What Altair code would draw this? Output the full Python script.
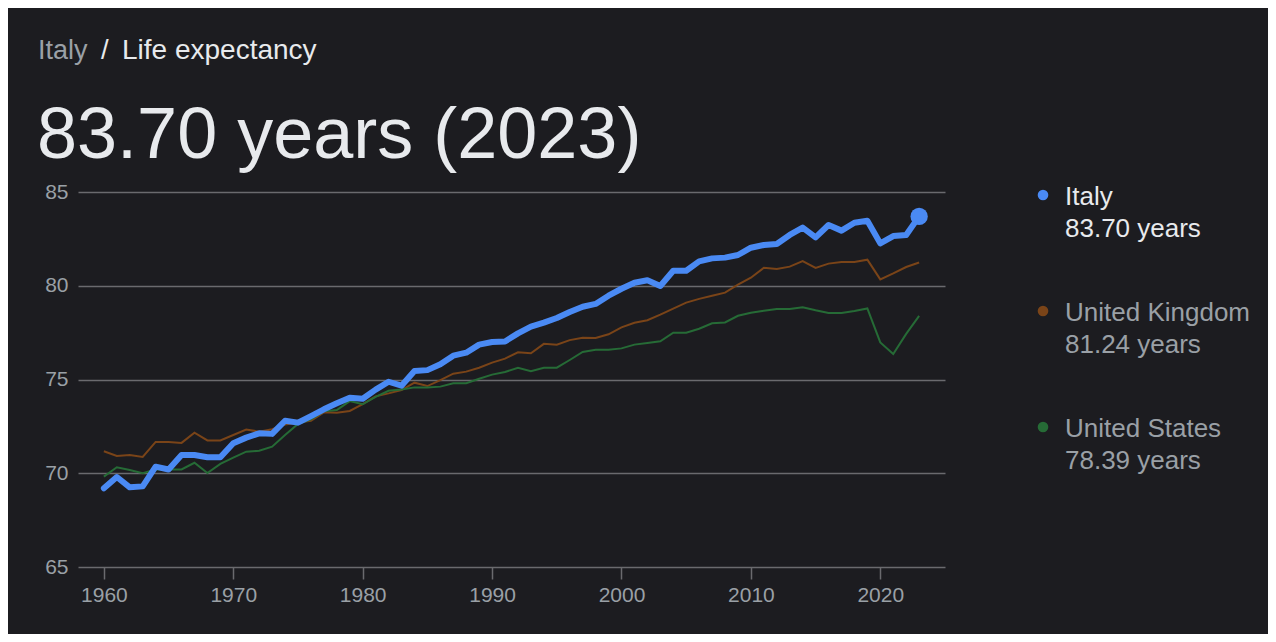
import altair as alt
import pandas as pd

years = list(range(1960, 2024))
italy = [69.2, 69.8, 69.25, 69.3, 70.35, 70.2, 70.97, 70.97, 70.85, 70.85,
         71.6, 71.9, 72.13, 72.1, 72.8, 72.7, 73.05, 73.41, 73.73, 74.03,
         73.97, 74.46, 74.88, 74.67, 75.45, 75.5, 75.81, 76.27, 76.43, 76.86,
         77.0, 77.03, 77.46, 77.82, 78.03, 78.28, 78.6, 78.88, 79.03, 79.47,
         79.84, 80.16, 80.29, 79.99, 80.8, 80.8, 81.3, 81.46, 81.5, 81.64,
         82.03, 82.17, 82.23, 82.71, 83.1, 82.58, 83.24, 82.94, 83.36, 83.47,
         82.26, 82.65, 82.71, 83.70]
uk = [71.17, 70.92, 70.97, 70.87, 71.67, 71.67, 71.62, 72.16, 71.75, 71.75,
      72.04, 72.33, 72.22, 72.35, 72.6, 72.7, 72.8, 73.25, 73.23, 73.32,
      73.69, 74.1, 74.26, 74.44, 74.83, 74.65, 74.97, 75.31, 75.42, 75.63,
      75.9, 76.11, 76.45, 76.4, 76.9, 76.86, 77.1, 77.23, 77.21, 77.41,
      77.78, 78.03, 78.16, 78.46, 78.78, 79.1, 79.3, 79.47, 79.63, 80.06,
      80.43, 80.96, 80.9, 81.02, 81.32, 80.95, 81.18, 81.27, 81.27, 81.39,
      80.34, 80.66, 81.0, 81.24]
us = [69.82, 70.32, 70.17, 70.0, 70.2, 70.2, 70.2, 70.56, 70.01, 70.5,
      70.83, 71.15, 71.2, 71.42, 72.04, 72.63, 72.87, 73.3, 73.37, 73.85,
      73.68, 74.07, 74.4, 74.47, 74.58, 74.58, 74.62, 74.8, 74.8, 75.04,
      75.26, 75.4, 75.63, 75.44, 75.63, 75.63, 76.04, 76.47, 76.59, 76.59,
      76.66, 76.86, 76.95, 77.04, 77.5, 77.5, 77.71, 78.0, 78.04, 78.4,
      78.56, 78.67, 78.76, 78.76, 78.85, 78.69, 78.55, 78.55, 78.65, 78.79,
      76.98, 76.36, 77.43, 78.39]

countries = ["Italy", "United Kingdom", "United States"]
colors = ["#4a8af4", "#7a4418", "#266b36"]
x_ticks = [1960, 1970, 1980, 1990, 2000, 2010, 2020]
y_ticks = [65, 70, 75, 80, 85]

rows = []
for name, series in zip(countries, [italy, uk, us]):
    for yr, v in zip(years, series):
        rows.append({"country": name, "year": yr, "value": v})
df = pd.DataFrame(rows)

FONT = "Liberation Sans"
BG = "#1c1c20"
GRID = "#6a6a6e"
LABEL = "#9aa0a6"
WHITE = "#e8eaed"

x = alt.X("year:Q",
          scale=alt.Scale(domain=[1958, 2025], nice=False, zero=False),
          axis=alt.Axis(values=x_ticks, format="d", grid=False, domain=False,
                        ticks=True, tickSize=12, tickColor=GRID, tickWidth=1.5,
                        labelColor=LABEL, labelFontSize=21, labelFont=FONT,
                        labelPadding=5, title=None))
y = alt.Y("value:Q",
          scale=alt.Scale(domain=[65, 85], nice=False, zero=False),
          axis=alt.Axis(values=y_ticks, grid=True, gridColor=GRID, gridWidth=1.5,
                        domain=False, ticks=False, labelColor=LABEL,
                        labelFontSize=21, labelFont=FONT, labelPadding=10,
                        title=None))
color = alt.Color("country:N", scale=alt.Scale(domain=countries, range=colors),
                  legend=None)

base = alt.Chart(df)
thin = base.transform_filter(alt.datum.country != "Italy").mark_line(
    strokeWidth=2).encode(x=x, y=y, color=color, detail="country:N")
thick = base.transform_filter(alt.datum.country == "Italy").mark_line(
    strokeWidth=6, strokeCap="round", strokeJoin="round").encode(x=x, y=y, color=color)
last = base.transform_filter(
    (alt.datum.country == "Italy") & (alt.datum.year == years[-1])
).mark_circle(size=300, opacity=1).encode(x=x, y=y, color=color)

layers = [thin, thick, last]


def text_layer(txt, px, py, size, col, weight="normal"):
    return alt.Chart(pd.DataFrame({"t": [txt]})).mark_text(
        align="left", baseline="alphabetic", font=FONT, fontSize=size,
        color=col, fontWeight=weight
    ).encode(x=alt.value(px), y=alt.value(py), text="t:N")


# header
layers.append(text_layer("Italy", -40, -133, 27, LABEL))
layers.append(text_layer("/", 23, -133, 27.5, WHITE))
layers.append(text_layer("Life expectancy", 44, -133, 28, WHITE))
layers.append(text_layer(f"{italy[-1]:.2f} years ({years[-1]})", -41, -34, 72, WHITE))

# legend
legend_vals = [italy[-1], uk[-1], us[-1]]
legend_y = [3, 119, 235]
for i, (name, val, col) in enumerate(zip(countries, legend_vals, colors)):
    tcol = WHITE if i == 0 else LABEL
    y0 = legend_y[i]
    layers.append(alt.Chart(pd.DataFrame({"c": [name]})).mark_circle(
        size=113, opacity=1, color=col).encode(x=alt.value(965), y=alt.value(y0)))
    layers.append(text_layer(name, 987, y0 + 10, 26, tcol))
    layers.append(text_layer(f"{val:.2f} years", 987, y0 + 42, 26, tcol))

chart = alt.layer(*layers).properties(
    width=867, height=375,
    padding={"left": 70, "top": 184, "right": 323, "bottom": 67},
    autosize=alt.AutoSizeParams(type="none"),
).configure(background=BG).configure_view(stroke=None)

chart.save("out.html", embed_options={"renderer": "svg", "actions": False})
